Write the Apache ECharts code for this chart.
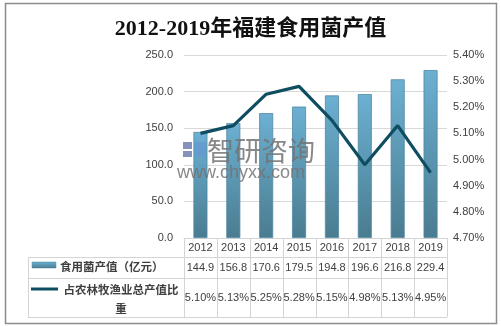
<!DOCTYPE html>
<html><head><meta charset="utf-8">
<script src="https://cdn.jsdelivr.net/npm/echarts@6/dist/echarts.min.js"></script>
<style>html,body{margin:0;padding:0;background:#fff}#c{width:501px;height:326px}</style>
</head><body><div id="c"></div>
<script>
var years = ['2012','2013','2014','2015','2016','2017','2018','2019'];
var outputValues = [144.9,156.8,170.6,179.5,194.8,196.6,216.8,229.4];
var shareValues = [5.10,5.13,5.25,5.28,5.15,4.98,5.13,4.95];
var barName = '食用菌产值（亿元）';
var lineName = '占农林牧渔业总产值比重';
var titleText = '2012-2019年福建食用菌产值';

var W = 501, H = 326;
var gL = 184, gR = 447, gT = 55, gB = 238;
var colW = (gR - gL) / years.length;
var rows = [238, 257, 278, 317];
var tabL = 28;
var lineC = '#d4d4d4';
var txtC = '#404040';
var numFont = "'Liberation Sans', Arial, sans-serif";
var cjkFont = "'Noto Sans CJK SC', sans-serif";

var chart = echarts.init(document.getElementById('c'), null, {renderer:'canvas'});
var g = [];
g.push({type:'rect', shape:{x:5.5,y:3.5,width:491,height:320}, style:{fill:'none', stroke:'#8c8c8c', lineWidth:1.5}, silent:true});
g.push({type:'line', shape:{x1:gL,y1:rows[0]+0.5,x2:gR,y2:rows[0]+0.5}, style:{stroke:lineC,lineWidth:1}});
for (var r=1;r<rows.length;r++){
  g.push({type:'line', shape:{x1:tabL,y1:rows[r]+0.5,x2:gR,y2:rows[r]+0.5}, style:{stroke:lineC,lineWidth:1}});
}
g.push({type:'line', shape:{x1:tabL+0.5,y1:rows[1],x2:tabL+0.5,y2:rows[3]}, style:{stroke:lineC,lineWidth:1}});
for (var i=0;i<=years.length;i++){
  var x = Math.round(gL + i*colW)+0.5;
  g.push({type:'line', shape:{x1:x,y1:rows[0],x2:x,y2:rows[3]}, style:{stroke:lineC,lineWidth:1}});
}
for (var i=0;i<years.length;i++){
  var cx = gL + (i+0.5)*colW;
  g.push({type:'text', x:cx, y:(rows[0]+rows[1])/2+0.5, style:{text:years[i], fill:txtC, font:"11px "+numFont, align:'center', verticalAlign:'middle'}});
  g.push({type:'text', x:cx, y:(rows[1]+rows[2])/2, style:{text:outputValues[i].toFixed(1), fill:txtC, font:"11px "+numFont, align:'center', verticalAlign:'middle'}});
  g.push({type:'text', x:cx, y:(rows[2]+rows[3])/2, style:{text:shareValues[i].toFixed(2)+'%', fill:txtC, font:"11px "+numFont, align:'center', verticalAlign:'middle'}});
}
g.push({type:'rect', shape:{x:32,y:262,width:24,height:6}, style:{fill:new echarts.graphic.LinearGradient(0,0,0,1,[{offset:0,color:'#6cb0d2'},{offset:1,color:'#4a7c90'}]), stroke:'#4d88a3', lineWidth:0.5}});
g.push({type:'text', x:60, y:267, style:{text:barName, fill:txtC, font:"bold 11.5px "+cjkFont, align:'left', verticalAlign:'middle'}});
g.push({type:'line', shape:{x1:31,y1:289,x2:58,y2:289}, style:{stroke:'#0f4d61', lineWidth:3}});
g.push({type:'text', x:121, y:290, style:{text:lineName.slice(0,10), fill:txtC, font:"bold 11.5px "+cjkFont, align:'center', verticalAlign:'middle'}});
g.push({type:'text', x:121, y:309, style:{text:lineName.slice(10), fill:txtC, font:"bold 11.5px "+cjkFont, align:'center', verticalAlign:'middle'}});
// watermark (drawn above the bars)
g.push({type:'rect', z:100, zlevel:1, shape:{x:183,y:142,width:9,height:7}, style:{fill:'rgba(80,100,160,0.7)'}});
g.push({type:'rect', z:100, zlevel:1, shape:{x:183,y:151,width:9,height:6}, style:{fill:'rgba(80,100,160,0.7)'}});
g.push({type:'rect', z:100, zlevel:1, shape:{x:194,y:142,width:12,height:15}, style:{fill:'rgba(100,150,210,0.65)'}});
g.push({type:'text', z:100, zlevel:1, x:207, y:151, style:{text:'智研咨询', fill:'rgba(115,115,115,0.85)', font:"27px "+cjkFont, align:'left', verticalAlign:'middle'}});
g.push({type:'text', z:100, zlevel:1, x:177, y:173, style:{text:'www.chyxx.com', fill:'rgba(115,115,115,0.85)', font:"18px "+numFont, align:'left', verticalAlign:'middle'}});

chart.setOption({
  animation:false,
  backgroundColor:'#fff',
  title:{text:titleText, left:'center', top:13,
    textStyle:{fontSize:22, fontWeight:'bold', color:'#111', fontFamily:"'Liberation Serif', 'Noto Sans CJK SC', serif"}},
  grid:{left:gL, right:W-gR, top:gT, bottom:H-gB, containLabel:false},
  xAxis:{type:'category', data:years, axisLine:{show:true,lineStyle:{color:'#d4d4d4'}}, axisTick:{show:false}, axisLabel:{show:false}},
  yAxis:[
    {type:'value', min:0, max:250, interval:50, position:'left',
      axisLabel:{formatter:function(v){return v.toFixed(1);}, color:txtC, fontSize:11, fontFamily:numFont, margin:11},
      axisLine:{show:false}, axisTick:{show:false}, splitLine:{lineStyle:{color:'#d9d9d9'}}},
    {type:'value', min:4.7, max:5.4, interval:0.1, position:'right',
      axisLabel:{formatter:function(v){return v.toFixed(2)+'%';}, color:txtC, fontSize:11, fontFamily:numFont, margin:6},
      axisLine:{show:false}, axisTick:{show:false}, splitLine:{show:false}}
  ],
  series:[
    {type:'bar', name:barName, data:outputValues, yAxisIndex:0, barWidth:14,
      itemStyle:{color:new echarts.graphic.LinearGradient(0,0,0,1,[{offset:0,color:'#6cb0d2'},{offset:1,color:'#4a7c90'}]), borderColor:'#4f89a4', borderWidth:0.8}},
    {type:'line', name:lineName, data:shareValues, yAxisIndex:1, showSymbol:false, symbol:'none',
      lineStyle:{color:'#0f4d61', width:3.2}, z:5}
  ],
  graphic:g
});
</script></body></html>
